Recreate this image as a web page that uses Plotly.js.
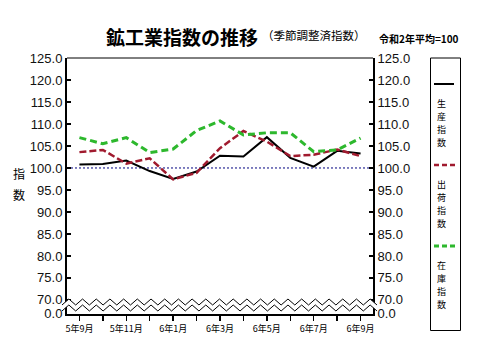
<!DOCTYPE html>
<html><head><meta charset="utf-8">
<script src="https://cdn.plot.ly/plotly-3.0.1.min.js"></script>
<style>html,body{margin:0;padding:0;background:#fff}#chart{width:478px;height:361px}</style>
</head><body><div id="chart"></div>
<script>
const months = ['5年9月','5年10月','5年11月','5年12月','6年1月','6年2月','6年3月','6年4月','6年5月','6年6月','6年7月','6年8月','6年9月'];
const monthLabels = ['5年9月','','5年11月','','6年1月','','6年3月','','6年5月','','6年7月','','6年9月'];
const production = [100.8, 100.9, 101.7, 99.3, 97.5, 99.2, 102.8, 102.6, 107.0, 102.3, 100.3, 103.9, 103.3];
const shipments  = [103.6, 104.1, 101.0, 102.2, 97.4, 98.9, 104.5, 108.4, 106.0, 102.7, 103.0, 104.2, 102.7];
const inventory  = [106.9, 105.5, 106.9, 103.5, 104.3, 108.5, 110.7, 107.5, 108.0, 108.0, 103.7, 104.1, 106.8];
const yTickVals  = [66.9, 70, 75, 80, 85, 90, 95, 100, 105, 110, 115, 120, 125];
const yTickText  = ['0.0','70.0','75.0','80.0','85.0','90.0','95.0','100.0','105.0','110.0','115.0','120.0','125.0'];
const seriesNames = ['生産指数','出荷指数','在庫指数'];
const baseValue = 100;

const W = 478, H = 361, L = 67, R = 373, T = 58, B = 314;
const px = x => (x - L) / (R - L);
const py = y => (B - y) / (B - T);

const RED = '#A01A2E', GREEN = '#2DB82D';
const numFont = {family: 'Liberation Sans Narrow, Arial Narrow, Liberation Sans, sans-serif', size: 13, color: '#111'};
const cjk = 'Noto Sans CJK JP, sans-serif';

const traces = [
  {x: months, y: production, mode: 'lines', line: {color: '#000', width: 2}, hoverinfo: 'skip'},
  {x: months, y: shipments, mode: 'lines', line: {color: RED, width: 2.5, dash: '7px,3px'}, hoverinfo: 'skip'},
  {x: months, y: inventory, mode: 'lines', line: {color: GREEN, width: 3, dash: '7px,4px'}, hoverinfo: 'skip'},
  {x: months, y: production, yaxis: 'y2', mode: 'lines', line: {color: 'rgba(0,0,0,0)', width: 0}, hoverinfo: 'skip'}
];

// zigzag break
function zig(offset) {
  const pts = [];
  const n = 46, x0 = 62, x1 = 377, step = (x1 - x0) / n;
  for (let k = 0; k <= n; k++) {
    pts.push([x0 + k * step, (k % 2 === 0 ? 305 : 299) + offset]);
  }
  return pts;
}
const up = zig(0), lo = zig(6);
const toPath = pts => pts.map((p, i) => (i ? 'L' : 'M') + px(p[0]).toFixed(5) + ',' + py(p[1]).toFixed(5)).join(' ');
const fillPath = toPath(up.concat(lo.slice().reverse())) + ' Z';

const shapes = [
  {type: 'line', xref: 'paper', yref: 'y', x0: 0, x1: 1, y0: baseValue, y1: baseValue, line: {color: '#000080', width: 1, dash: '2px,2px'}, layer: 'below'},
  {type: 'line', xref: 'paper', yref: 'paper', x0: 0, x1: 1, y0: 1, y1: 1, line: {color: '#000', width: 1}},
  {type: 'path', xref: 'paper', yref: 'paper', path: fillPath, fillcolor: '#fff', line: {width: 0}, layer: 'above'},
  {type: 'path', xref: 'paper', yref: 'paper', path: toPath(up), line: {color: '#000', width: 1}, layer: 'above'},
  {type: 'path', xref: 'paper', yref: 'paper', path: toPath(lo), line: {color: '#000', width: 1}, layer: 'above'},
  // legend box
  {type: 'rect', xref: 'paper', yref: 'paper', x0: px(430.5), x1: px(460.5), y0: py(58), y1: py(330.5), line: {color: '#000', width: 1}},
  {type: 'line', xref: 'paper', yref: 'paper', x0: px(434), x1: px(454), y0: py(84), y1: py(84), line: {color: '#000', width: 2}},
  {type: 'line', xref: 'paper', yref: 'paper', x0: px(434), x1: px(455), y0: py(165), y1: py(165), line: {color: RED, width: 2.5, dash: '5px,3px'}},
  {type: 'line', xref: 'paper', yref: 'paper', x0: px(434), x1: px(455), y0: py(246), y1: py(246), line: {color: GREEN, width: 3, dash: '5px,3px'}}
];

const ann = (text, x, y, size, bold, extra) => Object.assign({
  text: bold ? '<b>' + text + '</b>' : text, xref: 'paper', yref: 'paper', x: px(x), y: py(y),
  xanchor: 'center', yanchor: 'middle', showarrow: false,
  font: {family: cjk, size: size, color: '#000'}
}, extra || {});

const annotations = [
  ann('鉱工業指数の推移', 181.5, 36, 19, true),
  ann('（季節調整済指数）', 313.5, 34.5, 11.5, false),
  ann('令和2年平均=100', 418.5, 38.5, 10, true),
  ann('指', 19, 173, 12, false),
  ann('数', 19, 194, 12, false)
];
// vertical legend labels, one character per line
const legendTextTop = [103, 184, 265];
seriesNames.forEach((name, s) => {
  name.split('').forEach((ch, i) => {
    annotations.push(ann(ch, 441, legendTextTop[s] + i * 13.3, 9, false));
  });
});

const yCommon = {
  range: [66.8, 125], tickvals: yTickVals, ticktext: yTickText, ticks: 'inside', ticklen: 4, tickwidth: 2,
  tickcolor: '#000', showline: true, linewidth: 2, linecolor: '#000', showgrid: false, zeroline: false,
  tickfont: numFont, fixedrange: true
};

const layout = {
  width: W, height: H, margin: {l: L, r: W - R, t: T, b: H - B, pad: 0},
  paper_bgcolor: '#fff', plot_bgcolor: '#fff', showlegend: false,
  xaxis: {type: 'category', range: [-0.53, 12.53], tickvals: months, ticktext: monthLabels,
    ticks: 'outside', ticklen: 5, tickwidth: 1.5, tickcolor: '#000', showline: true, linewidth: 2, linecolor: '#000',
    showgrid: false, zeroline: false, tickangle: 0, tickfont: {family: cjk, size: 9, color: '#000'}},
  yaxis: Object.assign({}, yCommon, {side: 'left'}),
  yaxis2: Object.assign({}, yCommon, {side: 'right', overlaying: 'y'}),
  shapes: shapes, annotations: annotations
};

Plotly.newPlot('chart', traces, layout, {staticPlot: true, displayModeBar: false});
</script></body></html>
